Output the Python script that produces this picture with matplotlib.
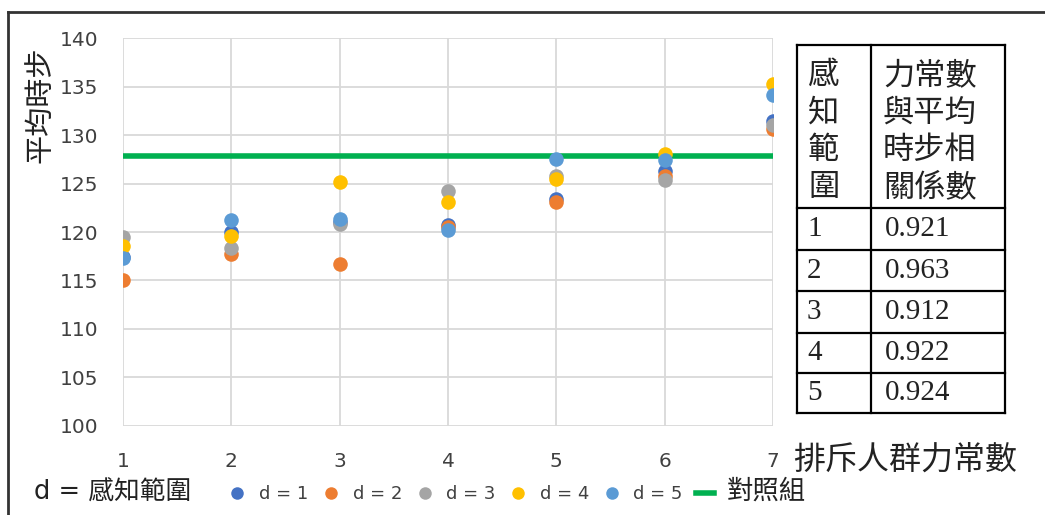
import numpy as np
import matplotlib.pyplot as plt
from matplotlib.lines import Line2D

plt.rcParams['font.family'] = ['DejaVu Sans', 'Noto Sans CJK TC']

force = [1, 2, 3, 4, 5, 6, 7]
d1 = [117.4, 120.0, 121.0, 120.7, 123.4, 126.3, 131.4]
d2 = [115.1, 117.7, 116.7, 120.5, 123.1, 125.8, 130.6]
d3 = [119.5, 118.3, 120.8, 124.2, 125.8, 125.4, 131.0]
d4 = [118.6, 119.6, 125.2, 123.1, 125.5, 128.0, 135.3]
d5 = [117.3, 121.2, 121.3, 120.2, 127.5, 127.4, 134.1]
control = 127.8

series = [d1, d2, d3, d4, d5]
labels = ['d = 1', 'd = 2', 'd = 3', 'd = 4', 'd = 5']
colors = ['#4472C4', '#ED7D31', '#A5A5A5', '#FFC000', '#5B9BD5']

table_ranges = ['1', '2', '3', '4', '5']
table_corr = ['0.921', '0.963', '0.912', '0.922', '0.924']

fig = plt.figure(figsize=(10.45, 5.15), dpi=100)
ax = fig.add_axes([0.1177, 0.173, 0.622, 0.753])

for ys, lab, c in zip(series, labels, colors):
    ax.scatter(force, ys, s=110, color=c, label=lab, zorder=3, linewidths=0)
ax.hlines(control, 1, 7, colors='#00B050', linewidth=4, zorder=2)

ax.set_xlim(1, 7)
ax.set_ylim(100, 140)
ax.set_yticks(np.arange(100, 141, 5))
ax.set_xticks(force)
ax.grid(True, color='#D9D9D9', linewidth=1.3, zorder=0)
for s in ax.spines.values():
    s.set_visible(False)
ax.tick_params(length=0, labelsize=14.5, colors='#404040')
ax.tick_params(axis='x', pad=19)
ax.tick_params(axis='y', pad=18)
ax.set_ylabel('平均時步', fontsize=21, color='#222222')
ax.yaxis.set_label_coords(-0.105, 0.827)
fig.text(0.759, 0.088, '排斥人群力常數', fontsize=23, color='#222222')

# legend
fig.text(0.033, 0.03, 'd = 感知範圍', fontsize=18.5, color='#222222')
handles = [Line2D([0], [0], marker='o', linestyle='', markersize=9,
                  markerfacecolor=c, markeredgewidth=0) for c in colors]
handles.append(Line2D([0], [0], color='#00B050', linewidth=4))
leg = fig.legend(handles, labels + ['對照組'], loc='lower left',
                 bbox_to_anchor=(0.203, -0.012), ncol=6, frameon=False,
                 fontsize=13, handlelength=1.0, handletextpad=0.7,
                 columnspacing=0.75)
for t in leg.get_texts():
    t.set_color('#404040')
leg.get_texts()[-1].set_fontsize(19)
leg.get_texts()[-1].set_color('#222222')

# frame lines
fig.add_artist(Line2D([0.0077, 0.0077], [0, 0.977], color='#333333', linewidth=2))
fig.add_artist(Line2D([0.0077, 1.0], [0.977, 0.977], color='#333333', linewidth=2))

# correlation table
W, H = 1045, 515
x0, x1, x2 = 797, 871, 1005
rows = [45, 208, 250, 291, 333, 373, 413]
tk = dict(color='black', linewidth=1.6)
for y in rows:
    fig.add_artist(Line2D([x0 / W, x2 / W], [1 - y / H, 1 - y / H], **tk))
for x in (x0, x1, x2):
    fig.add_artist(Line2D([x / W, x / W], [1 - rows[0] / H, 1 - rows[-1] / H], **tk))

cjk = ['Noto Sans CJK TC']
fig.text((x0 + 11) / W, 1 - 131 / H, '感\n知\n範\n圍', fontsize=22.5, family=cjk,
         va='center', ha='left', linespacing=1.22, color='#222222')
fig.text((x1 + 12) / W, 1 - 131 / H, '力常數\n與平均\n時步相\n關係數', fontsize=22.5,
         family=cjk, va='center', ha='left', linespacing=1.22, color='#222222')
for i, (r, v) in enumerate(zip(table_ranges, table_corr)):
    yc = (rows[i + 1] + rows[i + 2]) / 2
    fig.text((x0 + 10) / W, 1 - yc / H, r, fontsize=21, family='Liberation Serif',
             va='center', ha='left', color='#222222')
    fig.text((x1 + 14) / W, 1 - yc / H, v, fontsize=21, family='Liberation Serif',
             va='center', ha='left', color='#222222')

fig.savefig('out.png', dpi=100)
